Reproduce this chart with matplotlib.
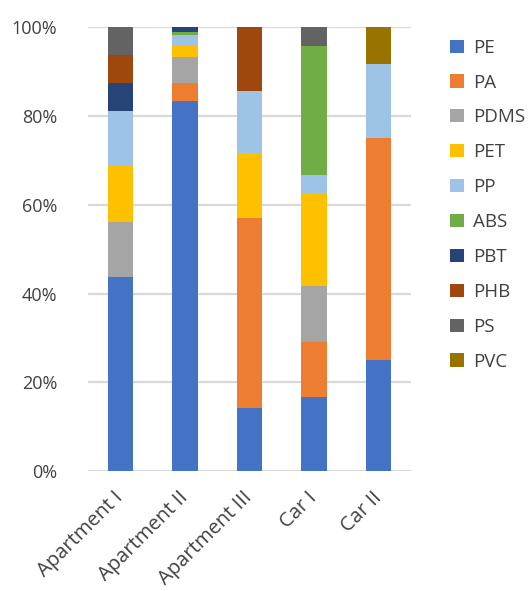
import matplotlib
matplotlib.use("Agg")
import matplotlib.pyplot as plt
import numpy as np
from matplotlib.patches import Patch
from matplotlib.ticker import PercentFormatter

# sample sites and polymer shares (% of particles)
sites = ["Apartment I", "Apartment II", "Apartment III", "Car I", "Car II"]

PE   = [43.75, 83.5, 14.29, 16.67, 25.0]
PA   = [0.0, 4.0, 42.86, 12.5, 50.0]
PDMS = [12.5, 5.8, 0.0, 12.5, 0.0]
PET  = [12.5, 2.6, 14.29, 20.83, 0.0]
PP   = [12.5, 2.3, 14.29, 4.17, 16.67]
ABS  = [0.0, 0.75, 0.0, 29.17, 0.0]
PBT  = [6.25, 1.05, 0.0, 0.0, 0.0]
PHB  = [6.25, 0.0, 14.29, 0.0, 0.0]
PS   = [6.25, 0.0, 0.0, 4.17, 0.0]
PVC  = [0.0, 0.0, 0.0, 0.0, 8.33]

polymers = ["PE", "PA", "PDMS", "PET", "PP", "ABS", "PBT", "PHB", "PS", "PVC"]
shares = [PE, PA, PDMS, PET, PP, ABS, PBT, PHB, PS, PVC]
colors = ["#4472C4", "#ED7D31", "#A5A5A5", "#FFC000", "#9DC3E6",
          "#70AD47", "#264478", "#9E480E", "#636363", "#997300"]

plt.rcParams["font.family"] = ["Open Sans", "DejaVu Sans"]
text_col = "#404040"

fig = plt.figure(figsize=(5.3, 5.91), dpi=100)
ax = fig.add_axes([0.166, 0.203, 0.6095, 0.7505])

x = np.arange(len(sites))
bottom = np.zeros(len(sites))
for name, vals, col in zip(polymers, shares, colors):
    vals = np.array(vals)
    ax.bar(x, vals, width=0.395, bottom=bottom, color=col, zorder=3)
    bottom += vals

ax.set_xlim(-0.5, len(sites) - 0.5)
ax.set_ylim(0, 100)
ax.set_yticks(np.arange(0, 101, 20))
ax.yaxis.set_major_formatter(PercentFormatter(decimals=0))
ax.set_xticks(x)
ax.set_xticklabels(sites, rotation=45, ha="right", va="center",
                   rotation_mode="anchor")
ax.tick_params(axis="y", length=0, labelsize=13, colors=text_col, pad=22)
ax.tick_params(axis="x", length=0, labelsize=14.5, colors=text_col, pad=17)
for s in ax.spines.values():
    s.set_visible(False)
ax.grid(axis="y", color="#d9d9d9", linewidth=1.6, zorder=0)
ax.set_axisbelow(True)

handles = [Patch(facecolor=c, edgecolor="none") for c in colors]
fig.legend(handles, polymers, loc="upper left", bbox_to_anchor=(0.818, 0.963),
           frameon=False, fontsize=13.5, handlelength=0.7, handleheight=0.7,
           handletextpad=0.5, labelspacing=0.9, labelcolor=text_col)

fig.savefig("out.png", dpi=100)
